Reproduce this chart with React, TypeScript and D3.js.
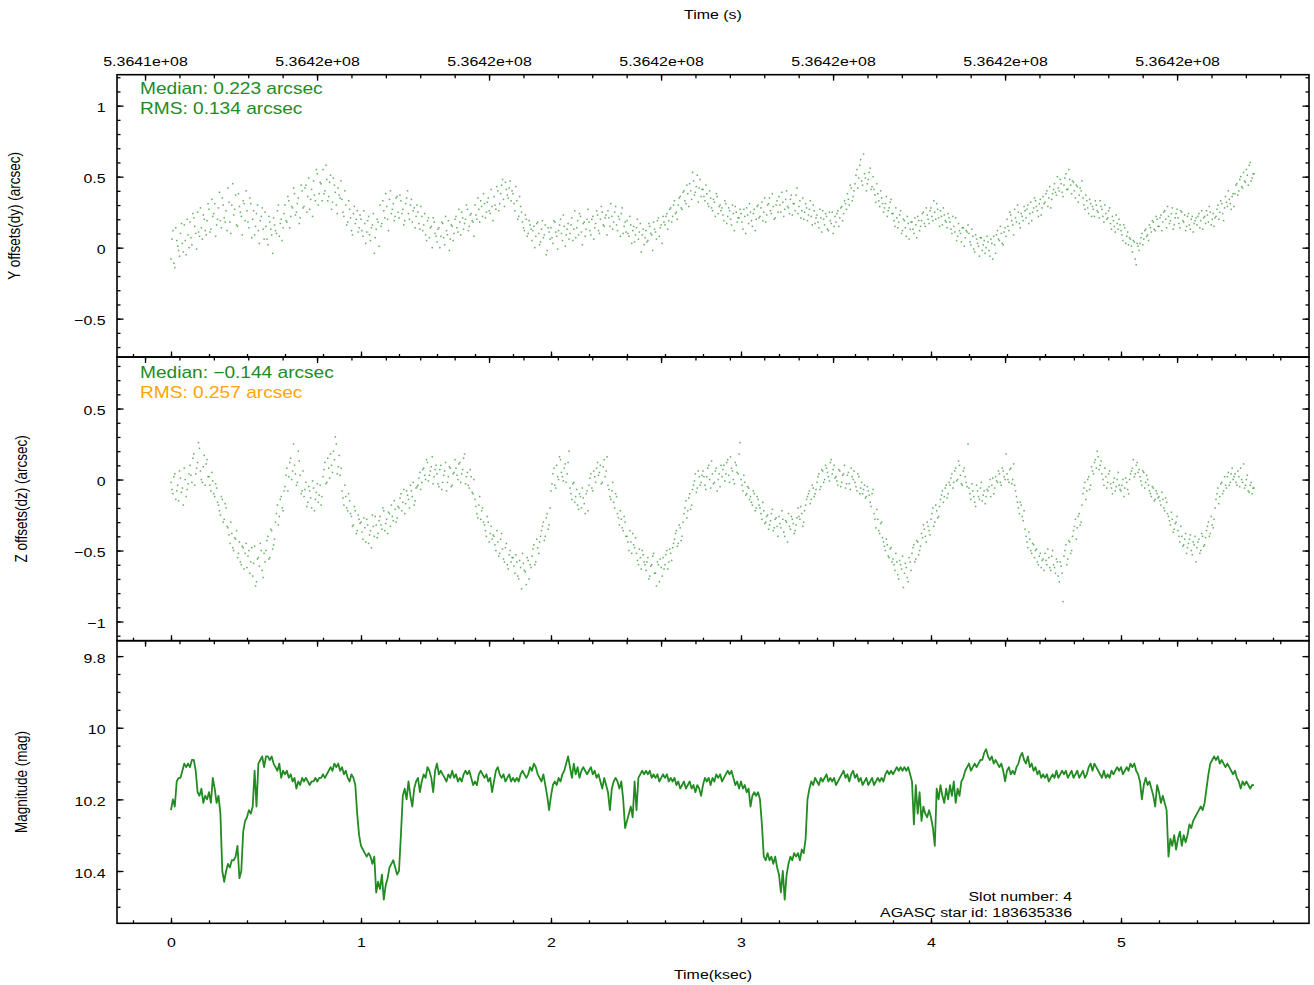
import { useEffect, useRef } from "react"
import * as d3 from "d3"

const W = 1314
const H = 985
const L = 117
const R = 1309
const SX = 1.18 // text in the reference is drawn slightly wide
const FONT = "'Liberation Sans', Arial, Helvetica, sans-serif"
const GREEN = "#228b22"
const ORANGE = "#ffa500"

// samples are 0.01 ksec apart; the "B" sets sit half a step later
const DT = 0.01

// Y offsets (dy), arcsec
const dyValues = [
  -0.08, 0.12, -0.14, 0.05, -0.02, 0.10, 0.03, 0.16, -0.05, 0.09,
  0.18, 0.02, 0.21, 0.10, 0.25, 0.08, 0.14, 0.23, 0.12, 0.19,
  0.27, 0.13, 0.22, 0.31, 0.16, 0.28, 0.19, 0.35, 0.21, 0.26,
  0.42, 0.18, 0.30, 0.23, 0.37, 0.15, 0.29, 0.22, 0.33, 0.19,
  0.26, 0.14, 0.31, 0.20, 0.09, 0.24, 0.12, 0.19, 0.28, 0.06,
  0.15, 0.02, 0.18, 0.09, 0.21, 0.12, 0.26, 0.08, 0.20, 0.14,
  0.30, 0.18, 0.33, 0.22, 0.28, 0.38, 0.25, 0.35, 0.21, 0.40,
  0.29, 0.44, 0.36, 0.27, 0.41, 0.47, 0.33, 0.52, 0.38, 0.45,
  0.55, 0.40, 0.48, 0.36, 0.51, 0.32, 0.44, 0.30, 0.42, 0.35,
  0.34, 0.22, 0.30, 0.18, 0.27, 0.12, 0.24, 0.17, 0.26, 0.14,
  0.20, 0.08, 0.17, 0.11, 0.22, 0.05, 0.16, -0.04, 0.13, 0.18,
  0.30, 0.17, 0.26, 0.38, 0.20, 0.34, 0.24, 0.31, 0.22, 0.36,
  0.21, 0.33, 0.27, 0.19, 0.35, 0.24, 0.30, 0.18, 0.28, 0.22,
  0.25, 0.13, 0.22, 0.16, 0.09, 0.19, 0.07, 0.15, 0.21, 0.10,
  0.04, 0.14, 0.08, 0.17, 0.02, 0.12, 0.19, 0.06, 0.15, 0.10,
  0.22, 0.11, 0.18, 0.25, 0.13, 0.20, 0.27, 0.15, 0.24, 0.18,
  0.30, 0.20, 0.27, 0.33, 0.22, 0.31, 0.25, 0.35, 0.24, 0.29,
  0.36, 0.27, 0.40, 0.31, 0.44, 0.34, 0.46, 0.37, 0.42, 0.33,
  0.38, 0.26, 0.33, 0.22, 0.29, 0.18, 0.12, 0.20, 0.10, 0.16,
  0.05, 0.15, 0.08, 0.18, 0.02, 0.13, 0.07, 0.16, -0.02, 0.11,
  0.14, 0.03, 0.18, 0.08, 0.12, 0.20, 0.05, 0.15, 0.09, 0.17,
  0.10, 0.21, 0.13, 0.07, 0.19, 0.24, 0.11, 0.17, 0.08, 0.20,
  0.18, 0.09, 0.22, 0.14, 0.26, 0.12, 0.20, 0.25, 0.15, 0.23,
  0.26, 0.15, 0.22, 0.18, 0.29, 0.12, 0.20, 0.24, 0.10, 0.18,
  0.19, 0.08, 0.16, 0.12, 0.04, 0.14, 0.06, 0.17, 0.09, 0.02,
  0.12, 0.05, 0.15, 0.09, 0.18, 0.11, 0.19, 0.08, 0.16, 0.22,
  0.16, 0.24, 0.19, 0.28, 0.22, 0.33, 0.25, 0.30, 0.36, 0.27,
  0.40, 0.31, 0.38, 0.45, 0.34, 0.47, 0.39, 0.51, 0.42, 0.36,
  0.41, 0.33, 0.38, 0.29, 0.35, 0.26, 0.32, 0.38, 0.24, 0.30,
  0.28, 0.19, 0.31, 0.22, 0.26, 0.16, 0.24, 0.29, 0.18, 0.21,
  0.24, 0.13, 0.22, 0.28, 0.17, 0.25, 0.15, 0.27, 0.20, 0.30,
  0.22, 0.32, 0.25, 0.18, 0.30, 0.35, 0.24, 0.29, 0.21, 0.33,
  0.36, 0.25, 0.32, 0.27, 0.40, 0.28, 0.34, 0.23, 0.31, 0.37,
  0.24, 0.33, 0.26, 0.20, 0.31, 0.19, 0.27, 0.22, 0.30, 0.17,
  0.23, 0.14, 0.21, 0.26, 0.16, 0.22, 0.12, 0.19, 0.25, 0.15,
  0.18, 0.26, 0.21, 0.29, 0.24, 0.31, 0.38, 0.30, 0.42, 0.36,
  0.45, 0.55, 0.49, 0.62, 0.44, 0.52, 0.40, 0.48, 0.56, 0.43,
  0.41, 0.32, 0.38, 0.29, 0.35, 0.25, 0.31, 0.22, 0.28, 0.34,
  0.24, 0.15, 0.21, 0.18, 0.26, 0.12, 0.19, 0.08, 0.17, 0.13,
  0.18, 0.10, 0.16, 0.22, 0.12, 0.19, 0.25, 0.15, 0.23, 0.17,
  0.28, 0.19, 0.25, 0.31, 0.21, 0.26, 0.16, 0.23, 0.18, 0.24,
  0.18, 0.10, 0.15, 0.21, 0.08, 0.12, 0.04, 0.14, 0.07, 0.11,
  0.10, 0.02, 0.08, -0.03, 0.06, 0.01, 0.07, -0.02, 0.05, 0.00,
  0.04, -0.06, 0.03, 0.08, -0.04, 0.12, 0.05, 0.10, 0.02, 0.14,
  0.20, 0.12, 0.23, 0.16, 0.27, 0.18, 0.25, 0.14, 0.22, 0.29,
  0.21, 0.30, 0.24, 0.19, 0.28, 0.33, 0.26, 0.31, 0.23, 0.36,
  0.32, 0.40, 0.35, 0.28, 0.38, 0.45, 0.37, 0.42, 0.48, 0.39,
  0.44, 0.52, 0.41, 0.48, 0.38, 0.46, 0.35, 0.43, 0.37, 0.40,
  0.35, 0.27, 0.33, 0.24, 0.31, 0.29, 0.22, 0.30, 0.25, 0.33,
  0.27, 0.18, 0.24, 0.21, 0.28, 0.13, 0.19, 0.11, 0.17, 0.20,
  0.12, 0.05, 0.14, 0.08, 0.02, 0.06, -0.03, 0.04, -0.12, 0.01,
  0.03, 0.10, 0.06, 0.13, 0.09, 0.16, 0.11, 0.18, 0.12, 0.20,
  0.15, 0.23, 0.18, 0.26, 0.14, 0.22, 0.19, 0.28, 0.16, 0.24,
  0.21, 0.14, 0.25, 0.18, 0.12, 0.22, 0.16, 0.20, 0.11, 0.19,
  0.16, 0.24, 0.19, 0.13, 0.22, 0.26, 0.18, 0.25, 0.20, 0.15,
  0.22, 0.30, 0.25, 0.31, 0.19, 0.36, 0.29, 0.34, 0.27, 0.38,
  0.38, 0.45, 0.40, 0.50, 0.42, 0.47, 0.55, 0.44, 0.60, 0.49,
  0.52,
]

const dyValuesB = [
  0.06, -0.11, 0.14, 0.01, -0.06, 0.17, -0.03, 0.05, 0.20, 0.00,
  0.07, 0.24, 0.15, -0.01, 0.11, 0.28, 0.06, 0.20, 0.09, 0.31,
  0.11, 0.34, 0.24, 0.08, 0.20, 0.39, 0.14, 0.30, 0.18, 0.12,
  0.32, 0.10, 0.45, 0.27, 0.16, 0.38, 0.25, 0.09, 0.31, 0.40,
  0.18, 0.35, 0.07, 0.26, 0.15, 0.30, 0.03, 0.22, 0.13, 0.25,
  0.06, 0.22, 0.13, -0.04, 0.16, 0.10, 0.30, 0.17, 0.05, 0.24,
  0.19, 0.36, 0.14, 0.29, 0.42, 0.23, 0.31, 0.17, 0.44, 0.28,
  0.42, 0.25, 0.49, 0.34, 0.22, 0.37, 0.55, 0.30, 0.46, 0.33,
  0.38, 0.58, 0.33, 0.46, 0.27, 0.49, 0.39, 0.24, 0.37, 0.47,
  0.25, 0.40, 0.16, 0.33, 0.21, 0.09, 0.29, 0.20, 0.11, 0.23,
  0.12, 0.26, 0.03, 0.19, 0.09, 0.14, 0.24, 0.07, 0.20, 0.01,
  0.15, 0.33, 0.21, 0.29, 0.12, 0.40, 0.27, 0.19, 0.35, 0.25,
  0.37, 0.24, 0.16, 0.31, 0.40, 0.20, 0.34, 0.26, 0.14, 0.30,
  0.17, 0.29, 0.12, 0.24, 0.05, 0.21, 0.14, 0.00, 0.18, 0.08,
  0.13, 0.00, 0.18, 0.07, 0.22, 0.09, -0.02, 0.16, 0.05, 0.20,
  0.14, 0.27, 0.09, 0.21, 0.17, 0.30, 0.12, 0.23, 0.19, 0.08,
  0.23, 0.35, 0.18, 0.29, 0.38, 0.21, 0.32, 0.26, 0.41, 0.19,
  0.30, 0.43, 0.26, 0.38, 0.48, 0.29, 0.41, 0.35, 0.47, 0.40,
  0.31, 0.43, 0.20, 0.36, 0.25, 0.14, 0.23, 0.08, 0.19, 0.13,
  0.12, 0.00, 0.17, 0.10, 0.04, 0.19, 0.09, -0.05, 0.14, 0.06,
  0.07, 0.19, 0.11, -0.01, 0.16, 0.10, 0.23, 0.01, 0.13, 0.06,
  0.16, 0.05, 0.26, 0.14, 0.09, 0.22, 0.02, 0.18, 0.13, 0.27,
  0.12, 0.20, 0.06, 0.17, 0.23, 0.10, 0.29, 0.16, 0.21, 0.09,
  0.21, 0.31, 0.13, 0.25, 0.16, 0.22, 0.08, 0.28, 0.15, 0.11,
  0.10, 0.22, 0.03, 0.15, 0.09, 0.20, 0.11, -0.03, 0.13, 0.07,
  0.04, 0.17, 0.10, -0.02, 0.13, 0.06, 0.21, 0.14, 0.03, 0.18,
  0.22, 0.13, 0.27, 0.18, 0.30, 0.24, 0.20, 0.35, 0.28, 0.39,
  0.33, 0.44, 0.29, 0.40, 0.53, 0.37, 0.43, 0.32, 0.48, 0.41,
  0.36, 0.44, 0.31, 0.40, 0.28, 0.34, 0.22, 0.36, 0.29, 0.26,
  0.23, 0.33, 0.17, 0.28, 0.20, 0.30, 0.12, 0.25, 0.21, 0.27,
  0.18, 0.27, 0.10, 0.23, 0.31, 0.19, 0.24, 0.12, 0.29, 0.21,
  0.28, 0.19, 0.35, 0.23, 0.31, 0.26, 0.38, 0.20, 0.30, 0.25,
  0.30, 0.39, 0.22, 0.34, 0.29, 0.24, 0.37, 0.31, 0.26, 0.42,
  0.29, 0.21, 0.35, 0.25, 0.28, 0.23, 0.33, 0.16, 0.26, 0.21,
  0.18, 0.27, 0.11, 0.20, 0.24, 0.13, 0.25, 0.17, 0.10, 0.22,
  0.24, 0.15, 0.28, 0.19, 0.33, 0.27, 0.34, 0.44, 0.33, 0.40,
  0.51, 0.42, 0.58, 0.47, 0.66, 0.49, 0.45, 0.53, 0.41, 0.50,
  0.37, 0.45, 0.33, 0.40, 0.31, 0.28, 0.36, 0.26, 0.32, 0.24,
  0.19, 0.28, 0.14, 0.23, 0.10, 0.20, 0.14, 0.22, 0.06, 0.18,
  0.13, 0.21, 0.07, 0.19, 0.15, 0.24, 0.17, 0.28, 0.20, 0.26,
  0.22, 0.33, 0.20, 0.27, 0.15, 0.22, 0.28, 0.19, 0.14, 0.21,
  0.13, 0.22, 0.11, 0.05, 0.17, 0.10, 0.14, 0.01, 0.12, 0.16,
  0.04, 0.13, -0.01, 0.09, 0.03, -0.06, 0.07, 0.02, -0.04, 0.08,
  -0.02, 0.06, -0.08, 0.02, 0.09, 0.06, 0.15, 0.03, 0.11, 0.08,
  0.15, 0.25, 0.19, 0.09, 0.21, 0.30, 0.17, 0.24, 0.19, 0.26,
  0.27, 0.17, 0.32, 0.25, 0.35, 0.29, 0.22, 0.34, 0.28, 0.31,
  0.38, 0.29, 0.43, 0.34, 0.41, 0.39, 0.50, 0.40, 0.45, 0.36,
  0.49, 0.41, 0.55, 0.44, 0.47, 0.40, 0.44, 0.32, 0.42, 0.47,
  0.30, 0.37, 0.28, 0.34, 0.22, 0.27, 0.33, 0.26, 0.21, 0.29,
  0.22, 0.30, 0.20, 0.26, 0.17, 0.22, 0.15, 0.23, 0.13, 0.16,
  0.09, 0.16, 0.03, 0.11, 0.07, 0.01, 0.05, -0.08, 0.03, -0.02,
  0.07, 0.02, 0.12, 0.08, 0.05, 0.14, 0.19, 0.13, 0.22, 0.15,
  0.21, 0.12, 0.25, 0.20, 0.29, 0.17, 0.24, 0.13, 0.21, 0.27,
  0.17, 0.26, 0.19, 0.23, 0.15, 0.24, 0.13, 0.22, 0.17, 0.21,
  0.22, 0.14, 0.26, 0.21, 0.17, 0.23, 0.29, 0.16, 0.24, 0.21,
  0.27, 0.20, 0.33, 0.24, 0.28, 0.32, 0.40, 0.31, 0.36, 0.29,
  0.44, 0.37, 0.48, 0.43, 0.53, 0.46, 0.51, 0.58, 0.47, 0.52,
]

// Z offsets (dz), arcsec
const dzValues = [
  -0.02, -0.10, 0.04, -0.08, -0.15, 0.01, -0.06, 0.08, -0.12, -0.03,
  0.10, -0.02, 0.18, 0.04, 0.12, 0.22, 0.00, 0.09, -0.04, 0.14,
  0.02, -0.08, -0.01, -0.12, -0.06, -0.18, -0.25, -0.14, -0.28, -0.20,
  -0.34, -0.45, -0.38, -0.50, -0.42, -0.55, -0.44, -0.60, -0.48, -0.52,
  -0.62, -0.50, -0.58, -0.68, -0.47, -0.72, -0.55, -0.45, -0.64, -0.52,
  -0.50, -0.40, -0.55, -0.36, -0.46, -0.30, -0.18, -0.26, -0.12, -0.22,
  -0.05, 0.08, 0.02, 0.15, 0.06, 0.10, -0.04, 0.20, 0.03, -0.08,
  -0.12, -0.02, -0.16, -0.08, -0.20, -0.06, -0.14, -0.03, -0.11, -0.18,
  0.02, 0.12, -0.02, 0.08, 0.18, 0.05, 0.14, 0.25, 0.09, 0.03,
  -0.08, -0.18, -0.12, -0.22, -0.15, -0.26, -0.32, -0.22, -0.36, -0.28,
  -0.30, -0.42, -0.34, -0.28, -0.45, -0.36, -0.25, -0.40, -0.32, -0.38,
  -0.26, -0.35, -0.22, -0.31, -0.38, -0.24, -0.18, -0.29, -0.21, -0.27,
  -0.20, -0.10, -0.16, -0.24, -0.08, -0.14, -0.04, -0.12, -0.18, -0.06,
  -0.04, 0.05, -0.02, 0.08, 0.00, 0.12, 0.03, 0.09, -0.03, 0.07,
  0.04, -0.05, 0.10, -0.02, 0.06, -0.08, 0.02, 0.08, -0.04, 0.05,
  0.08, 0.00, 0.12, 0.04, 0.15, -0.03, 0.05, -0.06, 0.02, -0.10,
  -0.14, -0.24, -0.18, -0.28, -0.20, -0.32, -0.40, -0.30, -0.38, -0.42,
  -0.40, -0.50, -0.44, -0.52, -0.38, -0.56, -0.48, -0.60, -0.53, -0.58,
  -0.55, -0.66, -0.58, -0.70, -0.62, -0.52, -0.64, -0.74, -0.57, -0.60,
  -0.54, -0.46, -0.58, -0.48, -0.44, -0.36, -0.30, -0.40, -0.24, -0.32,
  -0.08, 0.04, -0.04, 0.10, 0.00, 0.14, 0.02, 0.08, -0.02, 0.12,
  -0.06, -0.14, -0.02, -0.12, -0.18, -0.10, -0.20, -0.13, -0.24, -0.08,
  -0.04, 0.04, -0.08, 0.02, 0.08, 0.03, 0.10, -0.02, 0.14, 0.06,
  -0.04, -0.12, -0.08, -0.16, -0.10, -0.24, -0.32, -0.28, -0.36, -0.30,
  -0.40, -0.50, -0.44, -0.38, -0.48, -0.52, -0.60, -0.55, -0.50, -0.58,
  -0.64, -0.55, -0.68, -0.60, -0.52, -0.66, -0.58, -0.72, -0.62, -0.55,
  -0.60, -0.50, -0.58, -0.52, -0.48, -0.42, -0.36, -0.45, -0.34, -0.40,
  -0.24, -0.15, -0.22, -0.10, -0.18, -0.04, 0.04, -0.06, 0.02, -0.02,
  0.06, -0.04, 0.02, 0.10, -0.06, 0.04, -0.02, 0.08, 0.00, -0.05,
  0.02, 0.10, 0.04, 0.14, -0.02, 0.08, 0.00, 0.12, 0.05, 0.18,
  0.00, -0.08, -0.02, -0.10, -0.06, -0.12, -0.18, -0.10, -0.20, -0.14,
  -0.20, -0.28, -0.22, -0.30, -0.25, -0.32, -0.24, -0.36, -0.28, -0.33,
  -0.26, -0.34, -0.28, -0.40, -0.30, -0.24, -0.35, -0.28, -0.38, -0.32,
  -0.20, -0.28, -0.24, -0.30, -0.18, -0.12, -0.08, -0.14, -0.06, -0.10,
  -0.02, 0.04, -0.05, 0.06, 0.00, 0.08, 0.02, 0.12, 0.04, 0.10,
  0.02, -0.04, 0.06, -0.02, 0.04, -0.06, 0.03, -0.03, 0.08, 0.00,
  -0.02, -0.08, 0.02, -0.06, -0.10, -0.04, -0.12, -0.08, -0.16, -0.10,
  -0.24, -0.34, -0.28, -0.38, -0.30, -0.44, -0.50, -0.46, -0.55, -0.48,
  -0.56, -0.64, -0.58, -0.70, -0.60, -0.54, -0.66, -0.62, -0.72, -0.58,
  -0.52, -0.46, -0.56, -0.44, -0.50, -0.38, -0.32, -0.40, -0.30, -0.36,
  -0.28, -0.20, -0.30, -0.22, -0.26, -0.14, -0.08, -0.12, -0.04, -0.10,
  -0.04, 0.04, -0.02, 0.08, 0.00, 0.10, -0.03, 0.06, 0.02, -0.05,
  -0.06, -0.14, -0.08, -0.16, -0.04, -0.12, -0.06, -0.15, -0.08, -0.12,
  -0.08, 0.00, -0.04, -0.10, 0.02, -0.02, 0.04, -0.04, 0.06, 0.00,
  0.04, -0.02, 0.08, 0.00, -0.04, -0.12, -0.20, -0.16, -0.26, -0.22,
  -0.40, -0.48, -0.42, -0.52, -0.46, -0.50, -0.58, -0.54, -0.62, -0.56,
  -0.52, -0.60, -0.55, -0.64, -0.50, -0.62, -0.56, -0.68, -0.58, -0.66,
  -0.54, -0.46, -0.56, -0.44, -0.50, -0.36, -0.28, -0.34, -0.24, -0.30,
  -0.10, -0.02, -0.08, 0.02, -0.04, 0.06, 0.12, 0.08, 0.16, 0.10,
  0.04, -0.04, 0.02, -0.02, 0.06, -0.06, -0.02, -0.08, 0.00, -0.04,
  -0.08, 0.00, -0.06, -0.02, -0.10, 0.04, 0.08, 0.02, 0.10, 0.05,
  0.02, -0.04, 0.05, -0.02, 0.00, -0.08, -0.12, -0.06, -0.14, -0.10,
  -0.12, -0.18, -0.14, -0.22, -0.16, -0.26, -0.32, -0.28, -0.35, -0.30,
  -0.36, -0.44, -0.40, -0.46, -0.38, -0.48, -0.42, -0.50, -0.44, -0.40,
  -0.48, -0.42, -0.50, -0.40, -0.46, -0.36, -0.30, -0.38, -0.32, -0.28,
  -0.14, -0.06, -0.12, -0.02, -0.08, -0.04, 0.02, -0.04, 0.04, 0.00,
  0.04, -0.04, 0.02, 0.08, -0.02, -0.06, 0.00, -0.08, -0.04, -0.10,
  -0.06,
]

const dzValuesB = [
  -0.07, 0.02, -0.14, -0.04, 0.06, -0.09, -0.18, 0.00, -0.07, 0.04,
  0.03, 0.15, -0.04, 0.08, 0.26, 0.06, -0.02, 0.17, 0.11, 0.02,
  -0.04, 0.05, -0.10, -0.03, -0.16, -0.22, -0.12, -0.30, -0.17, -0.33,
  -0.39, -0.30, -0.48, -0.41, -0.36, -0.52, -0.58, -0.47, -0.63, -0.45,
  -0.54, -0.66, -0.48, -0.59, -0.75, -0.56, -0.61, -0.50, -0.69, -0.58,
  -0.43, -0.56, -0.35, -0.49, -0.42, -0.24, -0.32, -0.14, -0.20, -0.08,
  0.03, -0.08, 0.12, 0.00, 0.25, 0.04, -0.02, 0.13, -0.10, 0.06,
  -0.07, -0.19, -0.05, -0.13, -0.01, -0.22, -0.09, -0.16, -0.04, -0.12,
  0.07, -0.03, 0.15, 0.01, 0.10, 0.20, 0.30, 0.04, 0.17, 0.08,
  -0.13, -0.04, -0.20, -0.10, -0.24, -0.33, -0.19, -0.38, -0.25, -0.31,
  -0.37, -0.27, -0.44, -0.32, -0.39, -0.48, -0.33, -0.26, -0.41, -0.29,
  -0.32, -0.20, -0.36, -0.28, -0.23, -0.33, -0.26, -0.15, -0.30, -0.19,
  -0.13, -0.22, -0.07, -0.17, -0.11, -0.20, -0.08, -0.02, -0.15, -0.05,
  0.01, -0.07, 0.07, 0.03, 0.14, -0.01, 0.06, 0.16, 0.02, 0.10,
  -0.03, 0.07, -0.07, 0.03, 0.12, -0.02, 0.09, -0.05, 0.04, 0.14,
  0.03, 0.11, -0.02, 0.07, 0.18, 0.02, -0.04, 0.07, -0.09, 0.00,
  -0.19, -0.27, -0.12, -0.22, -0.30, -0.36, -0.26, -0.44, -0.33, -0.39,
  -0.46, -0.36, -0.54, -0.42, -0.49, -0.58, -0.45, -0.63, -0.50, -0.55,
  -0.61, -0.53, -0.68, -0.57, -0.77, -0.59, -0.65, -0.55, -0.70, -0.62,
  -0.49, -0.60, -0.42, -0.52, -0.40, -0.33, -0.43, -0.27, -0.35, -0.20,
  -0.03, 0.08, -0.06, 0.02, 0.16, 0.05, -0.01, 0.11, 0.04, 0.20,
  -0.10, -0.03, -0.16, -0.07, -0.21, -0.12, -0.06, -0.17, -0.10, -0.22,
  0.01, -0.06, 0.06, -0.02, 0.12, 0.05, -0.03, 0.09, 0.02, 0.16,
  -0.07, -0.14, -0.02, -0.20, -0.12, -0.27, -0.22, -0.34, -0.26, -0.40,
  -0.44, -0.36, -0.52, -0.46, -0.41, -0.57, -0.49, -0.63, -0.53, -0.60,
  -0.58, -0.70, -0.61, -0.54, -0.66, -0.75, -0.60, -0.56, -0.68, -0.63,
  -0.53, -0.63, -0.49, -0.57, -0.45, -0.38, -0.47, -0.32, -0.43, -0.30,
  -0.20, -0.27, -0.13, -0.21, -0.07, -0.01, -0.09, 0.06, -0.04, 0.03,
  0.02, -0.07, 0.08, 0.00, 0.13, -0.03, 0.06, -0.08, 0.04, 0.10,
  0.07, -0.01, 0.12, 0.03, 0.16, 0.06, -0.03, 0.10, 0.04, 0.26,
  -0.04, 0.03, -0.11, -0.05, -0.14, -0.16, -0.08, -0.22, -0.12, -0.18,
  -0.24, -0.16, -0.31, -0.26, -0.35, -0.29, -0.21, -0.34, -0.27, -0.40,
  -0.31, -0.22, -0.37, -0.29, -0.44, -0.33, -0.26, -0.31, -0.36, -0.27,
  -0.26, -0.19, -0.33, -0.22, -0.14, -0.10, -0.17, -0.04, -0.12, -0.07,
  0.02, -0.07, 0.07, -0.02, 0.10, 0.05, -0.01, 0.14, 0.07, 0.01,
  -0.01, 0.07, -0.05, 0.03, 0.10, -0.03, 0.05, -0.07, 0.02, 0.06,
  -0.05, 0.04, -0.10, -0.02, -0.07, -0.13, -0.05, -0.11, -0.19, -0.07,
  -0.28, -0.21, -0.36, -0.31, -0.41, -0.47, -0.42, -0.54, -0.49, -0.58,
  -0.60, -0.52, -0.67, -0.57, -0.63, -0.76, -0.59, -0.69, -0.55, -0.64,
  -0.48, -0.58, -0.43, -0.53, -0.47, -0.41, -0.35, -0.44, -0.33, -0.39,
  -0.24, -0.33, -0.18, -0.27, -0.19, -0.11, -0.16, -0.06, -0.13, -0.02,
  0.01, -0.06, 0.06, -0.01, 0.13, 0.03, -0.04, 0.08, -0.02, 0.25,
  -0.10, -0.03, -0.12, -0.19, -0.08, -0.14, -0.02, -0.11, -0.17, -0.07,
  -0.05, -0.12, 0.01, -0.06, -0.01, 0.06, -0.02, 0.08, 0.02, 0.18,
  0.00, 0.07, -0.03, 0.11, -0.08, -0.16, -0.24, -0.18, -0.29, -0.35,
  -0.44, -0.37, -0.50, -0.45, -0.55, -0.49, -0.60, -0.52, -0.57, -0.64,
  -0.57, -0.49, -0.62, -0.54, -0.60, -0.66, -0.58, -0.72, -0.61, -0.86,
  -0.50, -0.60, -0.43, -0.52, -0.40, -0.33, -0.42, -0.26, -0.32, -0.18,
  -0.06, -0.14, 0.00, -0.07, 0.09, 0.04, 0.14, 0.20, 0.07, 0.13,
  0.00, 0.08, -0.06, 0.04, -0.03, -0.10, 0.01, -0.05, 0.05, -0.07,
  -0.04, -0.12, 0.01, -0.07, 0.00, 0.06, 0.14, 0.04, 0.12, 0.07,
  -0.01, 0.06, -0.06, 0.03, -0.04, -0.10, -0.05, -0.15, -0.08, -0.13,
  -0.15, -0.09, -0.20, -0.13, -0.24, -0.29, -0.23, -0.37, -0.31, -0.26,
  -0.40, -0.33, -0.47, -0.42, -0.52, -0.45, -0.39, -0.53, -0.46, -0.58,
  -0.44, -0.52, -0.38, -0.47, -0.41, -0.33, -0.40, -0.26, -0.34, -0.20,
  -0.10, -0.17, -0.03, -0.10, 0.02, -0.06, 0.05, -0.02, 0.08, 0.02,
  -0.02, 0.06, -0.05, 0.00, 0.11, -0.04, 0.03, -0.09, -0.02, -0.06,
]

// magnitude, mag
const magValues = [
  10.23, 10.20, 10.22, 10.15, 10.14, 10.14, 10.12, 10.10, 10.11, 10.10,
  10.11, 10.09, 10.09, 10.12, 10.18, 10.19, 10.17, 10.21, 10.19, 10.20,
  10.18, 10.21, 10.14, 10.17, 10.21, 10.19, 10.24, 10.40, 10.43, 10.40,
  10.38, 10.39, 10.37, 10.37, 10.36, 10.33, 10.42, 10.40, 10.29, 10.26,
  10.25, 10.23, 10.24, 10.22, 10.12, 10.22, 10.10, 10.09, 10.08, 10.11,
  10.08, 10.08, 10.09, 10.08, 10.10, 10.11, 10.12, 10.10, 10.14, 10.12,
  10.13, 10.12, 10.14, 10.13, 10.15, 10.14, 10.17, 10.15, 10.16, 10.14,
  10.15, 10.14, 10.15, 10.16, 10.15, 10.15, 10.14, 10.15, 10.14, 10.14,
  10.13, 10.14, 10.13, 10.12, 10.11, 10.12, 10.10, 10.11, 10.10, 10.12,
  10.11, 10.13, 10.12, 10.14, 10.15, 10.13, 10.14, 10.16, 10.24, 10.30,
  10.33, 10.34, 10.35, 10.36, 10.35, 10.36, 10.38, 10.36, 10.46, 10.43,
  10.45, 10.41, 10.48, 10.44, 10.42, 10.39, 10.38, 10.37, 10.39, 10.41,
  10.40, 10.30, 10.19, 10.17, 10.20, 10.15, 10.19, 10.22, 10.17, 10.15,
  10.14, 10.18, 10.15, 10.13, 10.14, 10.11, 10.12, 10.14, 10.18, 10.12,
  10.10, 10.13, 10.12, 10.13, 10.14, 10.15, 10.13, 10.14, 10.12, 10.14,
  10.13, 10.15, 10.14, 10.15, 10.13, 10.12, 10.13, 10.12, 10.14, 10.16,
  10.15, 10.16, 10.13, 10.12, 10.13, 10.14, 10.13, 10.15, 10.14, 10.18,
  10.15, 10.12, 10.11, 10.13, 10.14, 10.13, 10.15, 10.14, 10.13, 10.15,
  10.14, 10.15, 10.14, 10.15, 10.13, 10.12, 10.13, 10.14, 10.13, 10.11,
  10.12, 10.10, 10.11, 10.13, 10.14, 10.15, 10.13, 10.16, 10.19, 10.23,
  10.19, 10.16, 10.15, 10.16, 10.14, 10.15, 10.13, 10.12, 10.10, 10.08,
  10.11, 10.14, 10.10, 10.13, 10.11, 10.14, 10.12, 10.11, 10.12, 10.13,
  10.12, 10.11, 10.13, 10.12, 10.14, 10.13, 10.15, 10.17, 10.14, 10.16,
  10.18, 10.23, 10.17, 10.15, 10.14, 10.15, 10.17, 10.15, 10.20, 10.28,
  10.26, 10.24, 10.22, 10.25, 10.15, 10.23, 10.14, 10.13, 10.12, 10.13,
  10.12, 10.13, 10.12, 10.14, 10.13, 10.14, 10.13, 10.15, 10.14, 10.13,
  10.14, 10.13, 10.15, 10.14, 10.15, 10.14, 10.16, 10.15, 10.17, 10.16,
  10.15, 10.17, 10.16, 10.15, 10.17, 10.16, 10.18, 10.16, 10.17, 10.19,
  10.16, 10.14, 10.15, 10.14, 10.16, 10.14, 10.15, 10.13, 10.14, 10.13,
  10.15, 10.14, 10.13, 10.12, 10.13, 10.12, 10.14, 10.16, 10.15, 10.17,
  10.15, 10.17, 10.16, 10.18, 10.17, 10.22, 10.19, 10.18, 10.19, 10.18,
  10.20, 10.27, 10.36, 10.37, 10.35, 10.37, 10.36, 10.38, 10.36, 10.39,
  10.41, 10.46, 10.40, 10.48, 10.41, 10.38, 10.36, 10.37, 10.35, 10.36,
  10.35, 10.37, 10.34, 10.35, 10.31, 10.20, 10.17, 10.15, 10.16, 10.14,
  10.15, 10.16, 10.14, 10.15, 10.14, 10.13, 10.15, 10.14, 10.15, 10.14,
  10.16, 10.15, 10.14, 10.13, 10.12, 10.14, 10.13, 10.15, 10.13, 10.12,
  10.14, 10.13, 10.15, 10.14, 10.16, 10.15, 10.14, 10.16, 10.15, 10.14,
  10.16, 10.15, 10.14, 10.15, 10.14, 10.15, 10.13, 10.12, 10.13, 10.12,
  10.13, 10.12, 10.11, 10.12, 10.11, 10.12, 10.11, 10.12, 10.11, 10.13,
  10.15, 10.27, 10.16, 10.24, 10.18, 10.26, 10.22, 10.24, 10.25, 10.23,
  10.25, 10.28, 10.33, 10.17, 10.20, 10.16, 10.19, 10.21, 10.17, 10.20,
  10.16, 10.19, 10.15, 10.21, 10.17, 10.19, 10.15, 10.14, 10.12, 10.11,
  10.10, 10.12, 10.11, 10.10, 10.11, 10.10, 10.09, 10.09, 10.07, 10.06,
  10.08, 10.09, 10.08, 10.10, 10.09, 10.10, 10.11, 10.10, 10.12, 10.15,
  10.12, 10.11, 10.13, 10.12, 10.13, 10.11, 10.10, 10.08, 10.07, 10.09,
  10.10, 10.08, 10.11, 10.10, 10.12, 10.11, 10.13, 10.12, 10.14, 10.13,
  10.14, 10.13, 10.15, 10.14, 10.13, 10.14, 10.12, 10.14, 10.13, 10.12,
  10.13, 10.12, 10.14, 10.13, 10.12, 10.14, 10.13, 10.12, 10.14, 10.13,
  10.12, 10.14, 10.13, 10.11, 10.10, 10.12, 10.10, 10.11, 10.12, 10.13,
  10.14, 10.12, 10.14, 10.13, 10.14, 10.12, 10.13, 10.12, 10.11, 10.12,
  10.11, 10.13, 10.12, 10.11, 10.12, 10.10, 10.11, 10.10, 10.12, 10.13,
  10.15, 10.20, 10.16, 10.14, 10.16, 10.15, 10.17, 10.19, 10.22, 10.16,
  10.18, 10.21, 10.19, 10.21, 10.23, 10.36, 10.31, 10.33, 10.30, 10.34,
  10.31, 10.29, 10.33, 10.30, 10.32, 10.30, 10.27, 10.28, 10.26, 10.25,
  10.24, 10.23, 10.22, 10.23, 10.21, 10.17, 10.13, 10.10, 10.09, 10.08,
  10.09, 10.08, 10.10, 10.09, 10.10, 10.11, 10.10, 10.11, 10.12, 10.13,
  10.12, 10.14, 10.15, 10.17, 10.15, 10.16, 10.15, 10.16, 10.17, 10.16,
  10.16,
]

// axis ticks
const ksecMajor = [0, 1, 2, 3, 4, 5]
const ksecMinor = d3.range(-1, 30).map((v) => v / 5)
const secMajor = d3.range(536414000, 536420001, 1000)
const secMinor = d3.range(536414000, 536420701, 200)
const dyMajor = [-0.5, 0, 0.5, 1]
const dyMinor = d3.range(-7, 13).map((v) => v / 10)
const dzMajor = [-1, -0.5, 0, 0.5]
const dzMinor = d3.range(-11, 9).map((v) => v / 10)
const magMajor = [9.8, 10, 10.2, 10.4]
const magMinor = d3.range(196, 211).map((v) => v / 20)

export default function App() {
  const svgRef = useRef<SVGSVGElement>(null)

  useEffect(() => {
    if (!svgRef.current) return
    const svg = d3.select(svgRef.current)
    svg.selectAll("*").remove()

    const xk = d3.scaleLinear().domain([-0.2842, 5.9895]).range([L, R])
    const xs = d3.scaleLinear().domain([536413837, 536420767]).range([L, R])

    const panels = [
      { top: 74.7, bottom: 357, y: d3.scaleLinear().domain([-0.77, 1.218]).range([357, 74.7]), major: dyMajor, minor: dyMinor },
      { top: 357, bottom: 640.7, y: d3.scaleLinear().domain([-1.135, 0.863]).range([640.7, 357]), major: dzMajor, minor: dzMinor },
      { top: 640.7, bottom: 923.3, y: d3.scaleLinear().domain([9.757, 10.546]).range([640.7, 923.3]), major: magMajor, minor: magMinor },
    ]

    const secFmt = (d: number) => d.toExponential(4).replace(/e\+(\d)$/, "e+0$1")

    const styleAxis = (g: any, labels: boolean) => {
      g.select(".domain").remove()
      g.selectAll(".tick line").attr("stroke", "#000").attr("stroke-width", 1.3)
      if (labels) {
        g.selectAll(".tick text")
          .attr("font-family", FONT)
          .attr("font-size", 13.5)
          .attr("fill", "#000")
          .attr("transform", `scale(${SX},1)`)
      } else {
        g.selectAll(".tick text").remove()
      }
    }

    panels.forEach((p, i) => {
      const g = svg.append("g")

      // left
      g.append("g").attr("transform", `translate(${L},0)`)
        .call(d3.axisLeft(p.y).tickValues(p.minor).tickSize(-3.5).tickSizeOuter(0))
        .call((a: any) => styleAxis(a, false))
      g.append("g").attr("transform", `translate(${L},0)`)
        .call(d3.axisLeft(p.y).tickValues(p.major).tickSize(-6.5).tickSizeOuter(0).tickPadding(9.7).tickFormat(d3.format("~g") as any))
        .call((a: any) => styleAxis(a, true))
        .call((a: any) => a.selectAll(".tick text").attr("dy", "0.45em"))
      // right
      g.append("g").attr("transform", `translate(${R},0)`)
        .call(d3.axisRight(p.y).tickValues(p.minor).tickSize(-3.5).tickSizeOuter(0))
        .call((a: any) => styleAxis(a, false))
      g.append("g").attr("transform", `translate(${R},0)`)
        .call(d3.axisRight(p.y).tickValues(p.major).tickSize(-6.5).tickSizeOuter(0))
        .call((a: any) => styleAxis(a, false))
      // top (seconds)
      g.append("g").attr("transform", `translate(0,${p.top})`)
        .call(d3.axisTop(xs).tickValues(secMinor).tickSize(-3.5).tickSizeOuter(0))
        .call((a: any) => styleAxis(a, false))
      g.append("g").attr("transform", `translate(0,${p.top})`)
        .call(d3.axisTop(xs).tickValues(secMajor).tickSize(-6).tickSizeOuter(0).tickPadding(9).tickFormat(secFmt as any))
        .call((a: any) => styleAxis(a, i === 0))
      // bottom (ksec)
      g.append("g").attr("transform", `translate(0,${p.bottom})`)
        .call(d3.axisBottom(xk).tickValues(ksecMinor).tickSize(-3).tickSizeOuter(0))
        .call((a: any) => styleAxis(a, false))
      g.append("g").attr("transform", `translate(0,${p.bottom})`)
        .call(d3.axisBottom(xk).tickValues(ksecMajor).tickSize(-5.5).tickSizeOuter(0).tickPadding(14).tickFormat(d3.format("d") as any))
        .call((a: any) => styleAxis(a, i === 2))

      // frame
      g.append("rect")
        .attr("x", L).attr("y", p.top)
        .attr("width", R - L).attr("height", p.bottom - p.top)
        .attr("fill", "none").attr("stroke", "#000").attr("stroke-width", 1.6)
    })

    // scatter panels
    const scatter = (vals: number[], offset: number, y: d3.ScaleLinear<number, number>) => {
      svg.append("g")
        .selectAll("rect")
        .data(vals)
        .join("rect")
        .attr("x", (_d, i) => xk((i + offset) * DT) - 0.75)
        .attr("y", (d) => y(d) - 0.75)
        .attr("width", 1.5)
        .attr("height", 1.5)
        .attr("fill", GREEN)
        .attr("fill-opacity", 0.7)
    }
    scatter(dyValues, 0, panels[0].y)
    scatter(dyValuesB, 0.5, panels[0].y)
    scatter(dzValues, 0, panels[1].y)
    scatter(dzValuesB, 0.5, panels[1].y)

    // magnitude line
    const line = d3.line<number>()
      .x((_d, i) => xk(i * DT))
      .y((d) => panels[2].y(d))
    svg.append("path")
      .datum(magValues)
      .attr("d", line)
      .attr("fill", "none")
      .attr("stroke", GREEN)
      .attr("stroke-width", 1.8)
      .attr("stroke-linejoin", "round")

    // text
    const label = (x: number, y: number, s: string, size: number, color = "#000", anchor = "start", rotate = 0) => {
      svg.append("text")
        .attr("transform", `translate(${x},${y}) scale(${SX},1)${rotate ? ` rotate(${rotate})` : ""}`)
        .attr("text-anchor", anchor)
        .attr("font-family", FONT)
        .attr("font-size", size)
        .attr("fill", color)
        .text(s)
    }

    label(140, 94.3, "Median: 0.223 arcsec", 16.2, GREEN)
    label(140, 114, "RMS: 0.134 arcsec", 16.2, GREEN)
    label(140, 377.5, "Median: \u22120.144 arcsec", 16.2, GREEN)
    label(140, 397.5, "RMS: 0.257 arcsec", 16.2, ORANGE)
    label(1072, 901.3, "Slot number: 4", 13.5, "#000", "end")
    label(1072, 917.3, "AGASC star id: 183635336", 13.5, "#000", "end")

    label(713, 19, "Time (s)", 13.5, "#000", "middle")
    label(713, 979, "Time(ksec)", 13.5, "#000", "middle")
    label(19.5, (panels[0].top + panels[0].bottom) / 2, "Y offsets(dy) (arcsec)", 13.5, "#000", "middle", -90)
    label(26.5, (panels[1].top + panels[1].bottom) / 2, "Z offsets(dz) (arcsec)", 13.5, "#000", "middle", -90)
    label(26.5, (panels[2].top + panels[2].bottom) / 2, "Magnitude (mag)", 13.5, "#000", "middle", -90)
  }, [])

  return (
    <svg
      ref={svgRef}
      width={W}
      height={H}
      viewBox={`0 0 ${W} ${H}`}
      style={{ position: "absolute", left: 0, top: 0, background: "#fff" }}
    />
  )
}
